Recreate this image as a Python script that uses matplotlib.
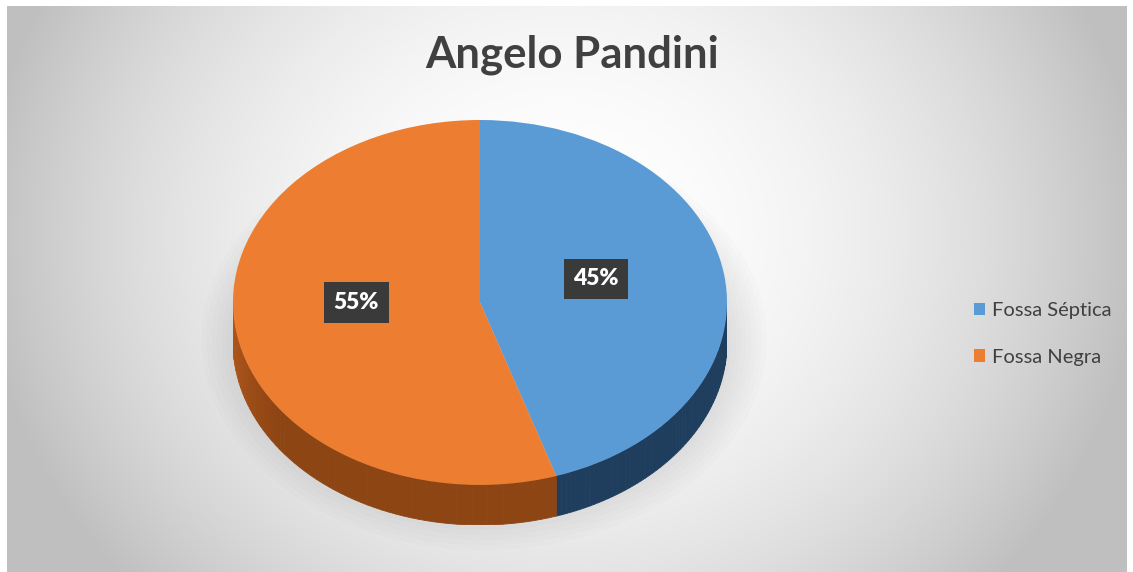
import numpy as np
import matplotlib
matplotlib.use("Agg")
import matplotlib.pyplot as plt
from matplotlib.patches import Polygon, Ellipse

# ---- data ----
title = "Angelo Pandini"
categories = ["Fossa Séptica", "Fossa Negra"]
values = [45, 55]
top_colors = ["#5B9BD5", "#ED7D31"]
side_colors = ["#1F3E5E", "#8E4514"]

W, H = 1133, 572
fig = plt.figure(figsize=(W / 100, H / 100), dpi=100)
fig.patch.set_facecolor("white")

# ---- background gradient (figure-pixel axes) ----
bg = fig.add_axes([0, 0, 1, 1])
bg.set_xlim(0, W)
bg.set_ylim(H, 0)
bg.axis("off")
yy, xx = np.mgrid[0:H, 0:W]
r2 = ((xx - 560) / 600.0) ** 2 + ((yy - 230) / 540.0) ** 2
g = np.clip(1.0 - 0.26 * r2, 0.75, 1.0)
img = np.dstack([g, g, g])
bg.imshow(img, extent=(7, 1127, 572, 6), aspect="auto", zorder=0, interpolation="bilinear")

# soft shadow under the pie
for i in range(14):
    a = 565 - i * 10
    b = 420 - i * 10
    bg.add_patch(Ellipse((484, 340), a, b, facecolor="#707070", alpha=0.02,
                         edgecolor="none", zorder=1))

bg.text(572, 55, title, ha="center", va="center", fontsize=31.5, fontweight="bold",
        family="Lato", color="#404040", zorder=5)

# ---- pie axes: unit circle -> ellipse ----
depth = 0.22
cx0, cx1 = 233, 727
ytop, ybot = 120, 525
ax = fig.add_axes([cx0 / W, 1 - ybot / H, (cx1 - cx0) / W, (ybot - ytop) / H])
ax.patch.set_alpha(0)
wedges, texts, autotexts = ax.pie(values, startangle=90, counterclock=False, colors=top_colors,
                                  autopct="%1.0f%%", pctdistance=0.5,
                                  wedgeprops=dict(linewidth=0, zorder=3),
                                  textprops=dict(zorder=6))
ax.set_aspect("auto")
ax.set_xlim(-1, 1)
ax.set_ylim(-1 - depth, 1)
ax.axis("off")

# side walls
frac = np.cumsum([0] + values) / float(sum(values))
angles = 90 - 360 * frac  # degrees, clockwise
for k in range(len(values)):
    a0, a1 = angles[k + 1], angles[k]  # a0 < a1
    for lo, hi in [(-180, 0), (-540, -360), (180, 360)]:
        s, e = max(a0, lo), min(a1, hi)
        if e <= s:
            continue
        n = 60
        ts = np.linspace(s, e, n + 1)
        for j in range(n):
            t = np.radians(ts[j:j + 2])
            pts = [(np.cos(t[0]), np.sin(t[0])), (np.cos(t[1]), np.sin(t[1])),
                   (np.cos(t[1]), np.sin(t[1]) - depth), (np.cos(t[0]), np.sin(t[0]) - depth)]
            tm = np.degrees(np.mean(t)) % 360
            shade = 1.0 + 0.28 * max(0, (215 - tm) / 35.0) if tm < 215 else 1.0
            base = np.array(matplotlib.colors.to_rgb(side_colors[k]))
            c = np.clip(base * shade, 0, 1)
            ax.add_patch(Polygon(pts, closed=True, facecolor=c, edgecolor=c,
                                 linewidth=0.6, zorder=2))

for t in autotexts:
    t.set_color("white")
    t.set_fontsize(16.5)
    t.set_fontweight("heavy")
    t.set_family("Lato")
    t.set_bbox(dict(boxstyle="square,pad=0.42", facecolor="#3A3A3A", edgecolor="none"))
autotexts[1].set_position((-0.5, 0.0))
autotexts[0].set_position((0.47, 0.13))

# legend
leg = fig.legend(wedges, categories, loc="center left", bbox_to_anchor=(956 / W, 1 - 334 / H),
                 frameon=False, handlelength=0.55, handleheight=0.55, handletextpad=0.35,
                 labelspacing=1.45, prop=dict(family="Lato", size=14.5))
for txt in leg.get_texts():
    txt.set_color("#404040")

fig.savefig("out.png", dpi=100, facecolor=fig.get_facecolor())
